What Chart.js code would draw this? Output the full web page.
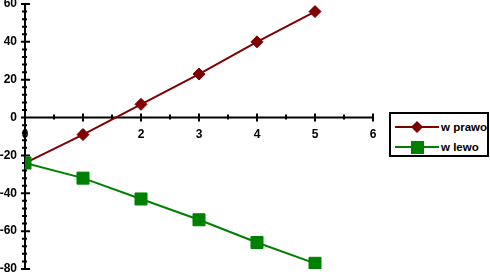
<!DOCTYPE html>
<html>
<head>
<meta charset="utf-8">
<script src="https://cdn.jsdelivr.net/npm/chart.js@4/dist/chart.umd.min.js"></script>
<style>
  body { margin: 0; background: #fff; }
  #wrap { position: relative; width: 490px; height: 278px; }
  #legend {
    position: absolute; left: 389px; top: 112px; width: 100px; height: 45px;
    box-sizing: border-box; border: 2px solid #000; background: #fff;
    font: bold 11.5px "Liberation Sans", Arial, sans-serif; color: #000;
  }
  .row { position: absolute; left: 4px; height: 14px; display: flex; align-items: center; white-space: nowrap; }
  .row svg { display: block; margin-right: 2px; flex: none; }
</style>
</head>
<body>
<div id="wrap">
  <canvas id="myChart" width="490" height="278"></canvas>
  <div id="legend"></div>
</div>
<script>
// data
const xValues = [0, 1, 2, 3, 4, 5];
const prawo = [-24, -9, 7, 23, 40, 56];
const lewo = [-24, -32, -43, -54, -66, -77];
const seriesNames = ['w prawo', 'w lewo'];
const xTickLabels = [0, 1, 2, 3, 4, 5, 6];
const yTickLabels = [-80, -60, -40, -20, 0, 20, 40, 60];

const red = '#800000';
const green = '#008000';
const font = { family: '"Liberation Sans", Arial, sans-serif', size: 12, weight: 'bold' };

function points(ys){
  let out = [];
  for(let i = 0; i < xValues.length; i++){
    out.push({ x: xValues[i], y: ys[i] });
  }
  return out;
}

// axis lines + major/minor tick marks crossing the axes
const axesPlugin = {
  id: 'axes',
  beforeDatasetsDraw(chart){
    const ctx = chart.ctx;
    const xs = chart.scales.x, ys = chart.scales.y;
    const x0 = xs.getPixelForValue(0);
    const y0 = ys.getPixelForValue(0);
    ctx.save();
    ctx.strokeStyle = '#000';
    ctx.lineWidth = 2;
    ctx.beginPath();
    ctx.moveTo(x0, ys.getPixelForValue(yTickLabels[yTickLabels.length - 1]) - 1);
    ctx.lineTo(x0, ys.getPixelForValue(yTickLabels[0]) + 1);
    ctx.moveTo(x0, y0);
    ctx.lineTo(xs.getPixelForValue(xTickLabels[xTickLabels.length - 1]), y0);
    // y ticks
    for(let v = yTickLabels[0]; v <= yTickLabels[yTickLabels.length - 1]; v += 4){
      const p = ys.getPixelForValue(v);
      if(v % 20 === 0){ ctx.moveTo(x0 - 4, p); ctx.lineTo(x0 + 5, p); }
      else { ctx.moveTo(x0 - 3, p); ctx.lineTo(x0 + 2, p); }
    }
    // x ticks
    for(let v = 0.5; v <= xTickLabels[xTickLabels.length - 1]; v += 0.5){
      const p = xs.getPixelForValue(v);
      if(v % 1 === 0){ ctx.moveTo(p, y0 - 4); ctx.lineTo(p, y0 + 4); }
      else { ctx.moveTo(p, y0 - 3); ctx.lineTo(p, y0 + 2); }
    }
    ctx.stroke();
    ctx.restore();
  }
};

let ctx = document.getElementById('myChart').getContext('2d');
let myChart = new Chart(ctx, {
  type: 'line',
  data: {
    datasets: [{
        label: seriesNames[0],
        data: points(prawo),
        borderColor: red,
        backgroundColor: red,
        borderWidth: 2,
        pointStyle: 'rectRot',
        pointRadius: 6,
        pointBorderWidth: 1,
        order: 1
      },
      {
        label: seriesNames[1],
        data: points(lewo),
        borderColor: green,
        backgroundColor: green,
        borderWidth: 2,
        pointStyle: 'rect',
        pointRadius: 8.5,
        pointBorderWidth: 1,
        order: 0
      }]
  },
  options: {
    responsive: false,
    animation: false,
    layout: { autoPadding: false, padding: { top: 4, right: 117, bottom: 9, left: 0 } },
    plugins: { legend: { display: false }, tooltip: { enabled: false } },
    scales: {
      x: {
        type: 'linear',
        min: 0, max: 6,
        position: { y: 0 },
        grid: { display: false, drawTicks: false },
        border: { display: false },
        ticks: { stepSize: 1, color: '#000', font: font, padding: 10 },
        afterFit(scale){ scale.paddingLeft = 0; scale.paddingRight = 0; }
      },
      y: {
        min: -80, max: 60,
        grid: { display: false, drawTicks: false },
        border: { display: false },
        ticks: { stepSize: 20, color: '#000', font: font, padding: 8 },
        // tick padding would otherwise push the plot down from the top edge
        afterFit(scale){ scale.width = 25; scale.paddingTop = 0; scale.paddingBottom = 0; }
      }
    }
  },
  plugins: [axesPlugin]
});

// legend as html
const legend = document.getElementById('legend');
const symbols = [
  '<svg width="44" height="14"><line x1="0" y1="7" x2="44" y2="7" stroke="' + red + '" stroke-width="2"/><polygon points="22,1 28,7 22,13 16,7" fill="' + red + '"/></svg>',
  '<svg width="44" height="14"><line x1="0" y1="7" x2="44" y2="7" stroke="' + green + '" stroke-width="2"/><rect x="16" y="1" width="13" height="13" fill="' + green + '"/></svg>'
];
for(let i = 0; i < seriesNames.length; i++){
  const row = document.createElement('div');
  row.className = 'row';
  row.style.top = (6 + i * 20) + 'px';
  row.innerHTML = symbols[i] + '<span>' + seriesNames[i] + '</span>';
  legend.appendChild(row);
}
</script>
</body>
</html>
